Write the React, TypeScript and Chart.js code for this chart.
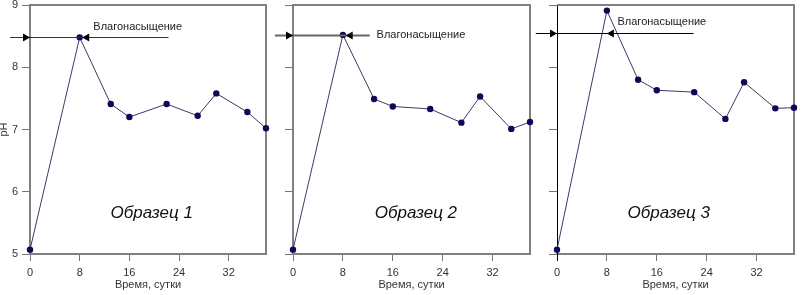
import React, { useEffect, useRef } from "react";
import { Chart, registerables } from "chart.js";

Chart.register(...registerables);

// ---- data ----
const days = [0, 8, 13, 16, 22, 27, 30, 35, 38];
const ph1 = [5.07, 8.48, 7.41, 7.2, 7.41, 7.22, 7.58, 7.28, 7.02];
const ph2 = [5.07, 8.52, 7.49, 7.37, 7.33, 7.11, 7.53, 7.01, 7.12];
const ph3 = [5.07, 8.91, 7.8, 7.63, 7.6, 7.17, 7.76, 7.34, 7.35];
const series = [ph1, ph2, ph3];
const xTicks = [0, 8, 16, 24, 32];
const yTicks = [5, 6, 7, 8, 9];
const xMin = 0;
const xMax = 38;
const yMin = 5;
const yMax = 9;
const sampleNames = ["Образец 1", "Образец 2", "Образец 3"];
const markLabel = "Влагонасыщение";
const xTitle = "Время, сутки";
const yTitle = "pH";
// "Влагонасыщение" marker (data units)
const markLevels = [8.49, 8.52, 8.55];
const markLineFrom = [-3.2, -2.9, -3.4];
const markLineTo = [22.3, 12.3, 21.9];
const markTip = [8.4, 8.45, 8.0];
const markTextX = [10.2, 13.4, 9.7];
const markTextY = [8.65, 8.515, 8.72];
const nameX = [19.6, 19.7, 17.9];
const nameY = [5.66, 5.66, 5.66];

// ---- layout/style ----
const FONT = "Arial, 'Liberation Sans', sans-serif";
const panels = [
  { left: 0, width: 270, yw: 30, rp: 4, labels: true, axisColor: "#808080", axisWidth: 2 },
  { left: 270, width: 264, yw: 23, rp: 4, labels: false, axisColor: "#808080", axisWidth: 2 },
  { left: 534, width: 267, yw: 23, rp: 7, labels: false, axisColor: "#000000", axisWidth: 1 },
];
const markStyles = [
  { color: "#333333", width: 1 },
  { color: "#666666", width: 2 },
  { color: "#000000", width: 1 },
];

function Panel({ idx }: { idx: number }) {
  const ref = useRef<HTMLCanvasElement | null>(null);
  useEffect(() => {
    const p = panels[idx];
    const canvas = ref.current!;
    const decor = {
      id: "decor" + idx,
      beforeDatasetsDraw(chart: any) {
        const { ctx, chartArea } = chart;
        ctx.save();
        ctx.strokeStyle = "#808080";
        ctx.lineWidth = 2;
        ctx.beginPath();
        ctx.moveTo(chartArea.left, chartArea.top);
        ctx.lineTo(chartArea.right, chartArea.top);
        ctx.lineTo(chartArea.right, chartArea.bottom);
        ctx.stroke();
        ctx.restore();
      },
      afterDatasetsDraw(chart: any) {
        const { ctx } = chart;
        const xs = chart.scales.x;
        const ys = chart.scales.y;
        const ly = Math.round(ys.getPixelForValue(markLevels[idx])) + 0.5;
        const x0 = xs.getPixelForValue(markLineFrom[idx]);
        const x1 = xs.getPixelForValue(markLineTo[idx]);
        const tipL = xs.getPixelForValue(0);
        const tipR = xs.getPixelForValue(markTip[idx]);
        ctx.save();
        ctx.strokeStyle = markStyles[idx].color;
        ctx.lineWidth = markStyles[idx].width;
        ctx.beginPath();
        ctx.moveTo(x0, ly);
        ctx.lineTo(x1, ly);
        ctx.stroke();
        ctx.fillStyle = "#000";
        ctx.beginPath();
        ctx.moveTo(tipL, ly);
        ctx.lineTo(tipL - 7, ly - 4);
        ctx.lineTo(tipL - 7, ly + 4);
        ctx.closePath();
        ctx.fill();
        ctx.beginPath();
        ctx.moveTo(tipR, ly);
        ctx.lineTo(tipR + 7, ly - 4);
        ctx.lineTo(tipR + 7, ly + 4);
        ctx.closePath();
        ctx.fill();
        ctx.fillStyle = "#222";
        ctx.font = `11px ${FONT}`;
        ctx.textAlign = "left";
        ctx.textBaseline = "middle";
        ctx.fillText(markLabel, xs.getPixelForValue(markTextX[idx]), ys.getPixelForValue(markTextY[idx]));
        ctx.font = `italic 17px ${FONT}`;
        ctx.textAlign = "center";
        ctx.fillStyle = "#111";
        ctx.fillText(sampleNames[idx], xs.getPixelForValue(nameX[idx]), ys.getPixelForValue(nameY[idx]));
        ctx.restore();
      },
    };
    const chart = new Chart(canvas, {
      type: "line",
      data: {
        datasets: [
          {
            data: days.map((d, i) => ({ x: d, y: series[idx][i] })),
            borderColor: "#3a3a66",
            borderWidth: 1,
            pointRadius: 3.2,
            pointBackgroundColor: "#0b0b55",
            pointBorderWidth: 0,
            tension: 0,
            clip: false as any,
          },
        ],
      },
      options: {
        animation: false,
        responsive: false,
        events: [],
        layout: { padding: { top: 5, right: p.rp, left: 0, bottom: 0 } },
        plugins: { legend: { display: false }, tooltip: { enabled: false } },
        scales: {
          x: {
            type: "linear",
            min: xMin,
            max: xMax,
            afterBuildTicks(scale: any) {
              scale.ticks = xTicks.map((v) => ({ value: v }));
            },
            afterFit(scale: any) {
              scale.height = 41;
              scale.paddingLeft = 0;
              scale.paddingRight = 0;
            },
            border: { display: true, color: "#808080", width: 2 },
            grid: {
              drawOnChartArea: false,
              drawTicks: true,
              tickLength: 7,
              lineWidth: 1,
              color: "#777",
              tickColor: (c: any) => (idx === 2 && c.tick && c.tick.value === 0 ? "#000" : "#777"),
            },
            ticks: {
              padding: 5,
              maxRotation: 0,
              autoSkip: false,
              color: "#333",
              font: { family: FONT, size: 11 },
            },
            title: {
              display: true,
              text: xTitle,
              color: "#333",
              font: { family: FONT, size: 11 },
              padding: { top: 0, bottom: 3 },
            },
          },
          y: {
            type: "linear",
            min: yMin,
            max: yMax,
            afterBuildTicks(scale: any) {
              scale.ticks = yTicks.map((v) => ({ value: v }));
            },
            afterFit(scale: any) {
              scale.width = p.yw;
              scale.paddingTop = 0;
              scale.paddingBottom = 0;
            },
            border: { display: true, color: p.axisColor, width: p.axisWidth },
            grid: {
              drawOnChartArea: false,
              drawTicks: true,
              tickLength: 8,
              lineWidth: 1,
              color: "#777",
              tickColor: "#777",
            },
            ticks: {
              display: p.labels,
              padding: 4,
              color: "#333",
              font: { family: FONT, size: 11 },
            },
            title: {
              display: p.labels,
              text: yTitle,
              color: "#333",
              font: { family: FONT, size: 11, lineHeight: 0.8 },
              padding: { top: 0, bottom: 0 },
            },
          },
        },
      },
      plugins: [decor],
    } as any);
    return () => chart.destroy();
  }, [idx]);
  const p = panels[idx];
  return (
    <canvas
      ref={ref}
      width={p.width}
      height={295}
      style={{ position: "absolute", left: p.left, top: 0, width: p.width, height: 295 }}
    />
  );
}

export default function App() {
  return (
    <div style={{ position: "fixed", left: 0, top: 0, width: 801, height: 295, background: "#fff" }}>
      <Panel idx={0} />
      <Panel idx={1} />
      <Panel idx={2} />
    </div>
  );
}
